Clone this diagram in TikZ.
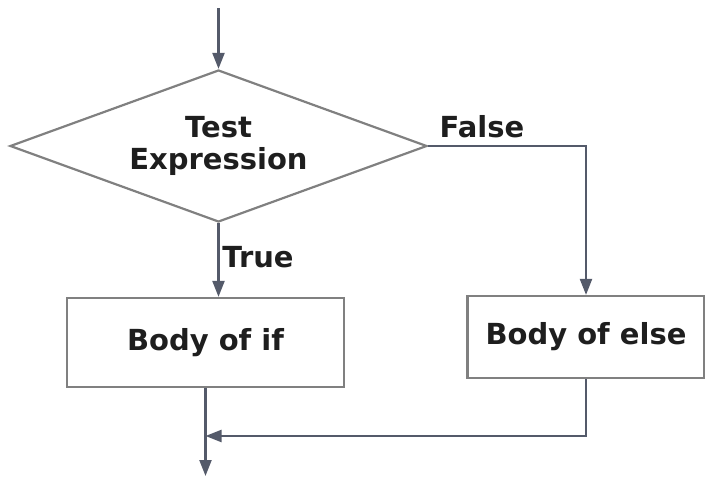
\documentclass[tikz,border=0pt]{standalone}
\usepackage{fontspec}
\setmainfont{DejaVu Sans}
\usepackage{tikz}
\usetikzlibrary{shapes.geometric, arrows.meta}
\definecolor{linecol}{RGB}{84,90,106}
\definecolor{boxcol}{RGB}{128,128,128}
\definecolor{textcol}{RGB}{30,30,30}

\begin{document}
\begin{tikzpicture}[x=0.5pt, y=-0.5pt, line width=1.1pt,
  font=\fontsize{14.5}{16}\selectfont\bfseries, text=textcol,
  decision/.style = {draw=boxcol, diamond, aspect=2.74, inner sep=0pt, minimum width=208.5pt, minimum height=76pt, align=center},
  block/.style = {draw=boxcol, rectangle, inner sep=0pt},
  flow/.style = {draw=linecol, -{Triangle[width=6pt,length=8pt]}},
  line/.style = {draw=linecol}]
  \useasboundingbox (0,0) rectangle (705,477);
  \node[decision] (test) at (218.5,146) {Test\\Expression};
  \node[block, minimum width=138.5pt, minimum height=44.5pt] (ifbody) at (205.5,342.5) {Body of if};
  \node[block, minimum width=118.5pt, minimum height=41pt] (elsebody) at (586,337) {Body of else};
  \coordinate (start) at (218.5,8);
  \coordinate (join) at (205.5,436);
  \coordinate (stop) at (205.5,476);
  \node (true) at (258,257) {True};
  \node (false) at (482,127) {False};
  \draw[flow] (start) to (test.north);
  \draw[flow] (test.south) to (test.south |- ifbody.north);
  \draw[flow] (test.east) -| (elsebody.north);
  \draw[flow] (ifbody.south) to (stop);
  \draw[flow] (elsebody.south) |- (join);
\end{tikzpicture}
\end{document}
